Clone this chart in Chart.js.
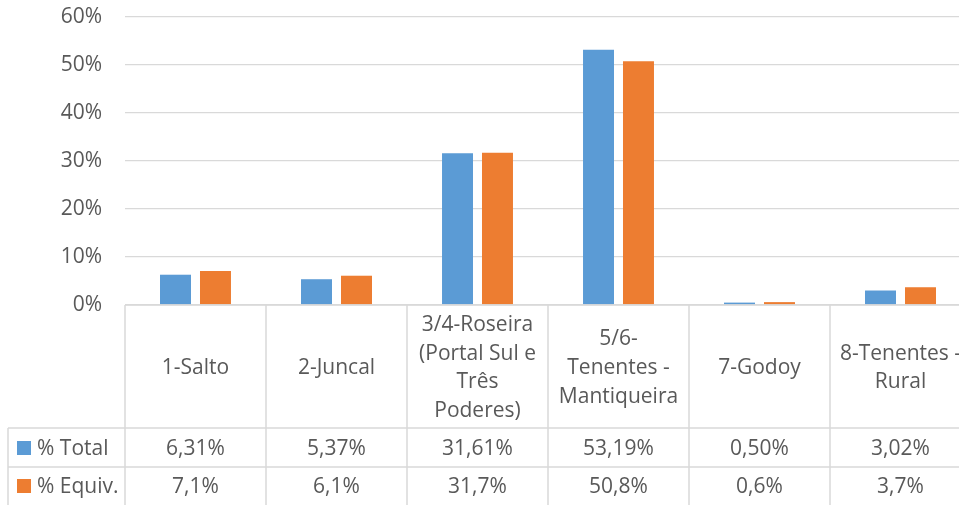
<!DOCTYPE html>
<html>
<head>
<meta charset="utf-8">
<script src="https://cdn.jsdelivr.net/npm/chart.js@4/dist/chart.umd.min.js"></script>
<style>
  html, body { margin: 0; padding: 0; background: #fff; overflow: hidden; }
  #wrap { width: 972px; height: 505px; position: relative; }
</style>
</head>
<body>
<div id="wrap"><canvas id="chart"></canvas></div>
<script>
// Data
const CATEGORIES = [
    ['1-Salto'],
    ['2-Juncal'],
    ['3/4-Roseira', '(Portal Sul e', 'Três', 'Poderes)'],
    ['5/6-', 'Tenentes -', 'Mantiqueira'],
    ['7-Godoy'],
    ['8-Tenentes -', 'Rural']
];
const TOTAL = [6.31, 5.37, 31.61, 53.19, 0.50, 3.02];
const EQUIV = [7.1, 6.1, 31.7, 50.8, 0.6, 3.7];
const Y_TICKS = [0, 10, 20, 30, 40, 50, 60];

const BLUE = '#5b9bd5';
const ORANGE = '#ed7d31';
const TEXT = '#595959';
const LINE = '#d9d9d9';
const FONT = '21px "Open Sans"';

const fmt = (v, d) => v.toFixed(d).replace('.', ',') + '%';

const SERIES = [
    { name: '% Total', color: BLUE, values: TOTAL, decimals: 2 },
    { name: '% Equiv.', color: ORANGE, values: EQUIV, decimals: 1 }
];

// draws the data table below the plot area
const dataTable = {
    id: 'dataTable',
    afterDraw(chart) {
        const ctx = chart.ctx;
        const area = chart.chartArea;
        const x = chart.scales.x;
        const catW = area.width / CATEGORIES.length;
        const top = area.bottom;
        const row1 = 428, row2 = 467, bottom = 506;
        const tableLeft = 8;

        ctx.save();
        ctx.strokeStyle = LINE;
        ctx.lineWidth = 1.5;
        ctx.beginPath();
        // top border of category row
        ctx.moveTo(area.left, top); ctx.lineTo(area.right, top);
        // row separators
        [row1, row2, bottom].forEach(y => {
            ctx.moveTo(tableLeft, y); ctx.lineTo(area.right, y);
        });
        // vertical lines
        for (let i = 0; i <= CATEGORIES.length; i++) {
            const lx = area.left + i * catW;
            ctx.moveTo(lx, top); ctx.lineTo(lx, bottom);
        }
        ctx.moveTo(tableLeft, row1); ctx.lineTo(tableLeft, bottom);
        ctx.stroke();

        ctx.font = FONT;
        ctx.fillStyle = TEXT;
        ctx.textAlign = 'center';
        ctx.textBaseline = 'alphabetic';
        const lineH = 28.7;
        const mid = (top + row1) / 2;
        CATEGORIES.forEach((lines, i) => {
            const cx = x.getPixelForValue(i);
            lines.forEach((t, k) => {
                const y = mid - (lines.length - 1) / 2 * lineH + k * lineH + 7.5;
                ctx.fillText(t, cx, y);
            });
        });

        const baselines = [455, 493];
        SERIES.forEach((s, r) => {
            const by = baselines[r];
            ctx.textAlign = 'center';
            ctx.fillStyle = TEXT;
            s.values.forEach((v, i) => {
                ctx.fillText(fmt(v, s.decimals), x.getPixelForValue(i), by);
            });
            ctx.fillStyle = s.color;
            ctx.fillRect(17, by - 14, 14, 14);
            ctx.fillStyle = TEXT;
            ctx.textAlign = 'left';
            ctx.fillText(s.name, 37, by);
        });
        ctx.restore();
    }
};

new Chart(document.getElementById('chart'), {
    type: 'bar',
    data: {
        labels: CATEGORIES.map(l => l.join(' ')),
        datasets: SERIES.map(s => ({
            label: s.name,
            data: s.values,
            backgroundColor: s.color,
            categoryPercentage: 0.567,
            barPercentage: 0.775
        }))
    },
    options: {
        responsive: true,
        maintainAspectRatio: false,
        animation: false,
        layout: { padding: { left: 0, right: 1, top: 17, bottom: 200 } },
        plugins: {
            legend: { display: false },
            tooltip: { enabled: false }
        },
        scales: {
            x: { display: false },
            y: {
                min: 0,
                max: 60,
                afterFit(scale) {
                    scale.width = 125;
                    scale.paddingTop = 0;
                    scale.paddingBottom = 0;
                },
                afterBuildTicks(scale) { scale.ticks = Y_TICKS.map(v => ({ value: v })); },
                border: { display: false },
                grid: { color: LINE, lineWidth: 1.3, drawTicks: false },
                ticks: {
                    padding: 23,
                    color: TEXT,
                    font: { family: 'Open Sans', size: 21 },
                    callback: v => v + '%'
                }
            }
        }
    },
    plugins: [dataTable]
});
</script>
</body>
</html>
